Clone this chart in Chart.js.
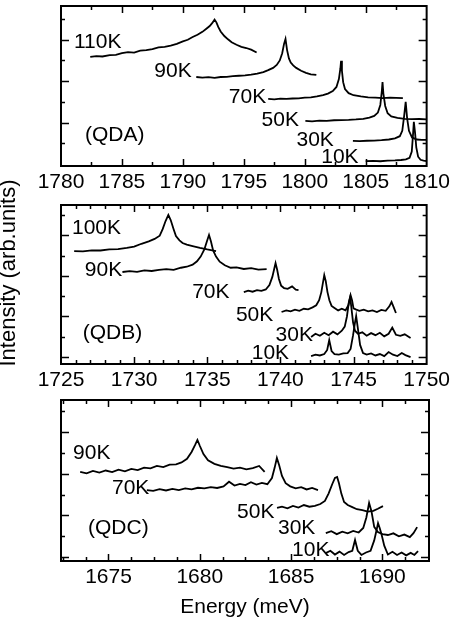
<!DOCTYPE html>
<html>
<head>
<meta charset="utf-8">
<script src="https://cdn.jsdelivr.net/npm/chart.js@4.4.0/dist/chart.umd.min.js"></script>
<style>
  body { margin: 0; background: #fff; width: 454px; height: 622px; position: relative; overflow: hidden; font-family: "Liberation Sans", Arial, sans-serif; }
  canvas { position: absolute; left: 0; }
  #ylab { position: absolute; width: 260px; height: 26px; line-height: 26px; left: -122px; top: 260px; text-align: center; font-size: 22px; color: #000; transform: rotate(-90deg); }
</style>
</head>
<body>
<canvas id="qda" width="454" height="200" style="top:0px"></canvas>
<canvas id="qdb" width="454" height="200" style="top:200px"></canvas>
<canvas id="qdc" width="454" height="227" style="top:395px"></canvas>
<div id="ylab">Intensity (arb.units)</div>
<script>
// tick labels
var qdaTicks = [1780, 1785, 1790, 1795, 1800, 1805, 1810];
var qdbTicks = [1725, 1730, 1735, 1740, 1745, 1750];
var qdcTicks = [1675, 1680, 1685, 1690];

// QDA spectra (energy meV / intensity, offset per temperature)
var qda110E = [1782.4, 1782.9, 1783.4, 1784.0, 1784.5, 1785.0, 1785.5, 1786.0, 1786.5, 1787.0, 1787.5, 1788.0, 1788.5, 1789.0, 1789.5, 1790.0, 1790.4, 1790.8, 1791.2, 1791.6, 1791.9, 1792.2, 1792.4, 1792.6, 1792.75, 1792.9, 1793.1, 1793.4, 1793.7, 1794.0, 1794.4, 1794.8, 1795.2, 1795.6, 1796.05];
var qda110I = [5.17, 5.21, 5.19, 5.26, 5.27, 5.35, 5.40, 5.38, 5.47, 5.50, 5.55, 5.63, 5.66, 5.72, 5.80, 5.92, 6.00, 6.13, 6.24, 6.38, 6.52, 6.66, 6.80, 6.97, 6.84, 6.62, 6.40, 6.18, 6.02, 5.88, 5.76, 5.66, 5.60, 5.52, 5.38];
var qda90E = [1791.1, 1791.6, 1792.1, 1792.6, 1793.1, 1793.6, 1794.1, 1794.6, 1795.1, 1795.6, 1796.1, 1796.6, 1797.0, 1797.4, 1797.7, 1797.95, 1798.15, 1798.3, 1798.42, 1798.55, 1798.7, 1798.85, 1799.05, 1799.3, 1799.7, 1800.1, 1800.5, 1800.95];
var qda90I = [4.20, 4.17, 4.19, 4.16, 4.20, 4.21, 4.24, 4.26, 4.28, 4.31, 4.36, 4.44, 4.53, 4.64, 4.78, 5.00, 5.35, 5.80, 6.04, 5.50, 5.10, 4.90, 4.76, 4.64, 4.50, 4.40, 4.33, 4.30];
var qda70E = [1797.0, 1797.5, 1798.0, 1798.5, 1799.0, 1799.5, 1800.0, 1800.5, 1801.0, 1801.5, 1801.9, 1802.3, 1802.6, 1802.8, 1802.92, 1802.98, 1803.05, 1803.15, 1803.3, 1803.6, 1804.0, 1804.6, 1805.2, 1805.8, 1806.4, 1807.0, 1807.5, 1808.05];
var qda70I = [3.14, 3.12, 3.15, 3.14, 3.16, 3.17, 3.20, 3.22, 3.26, 3.32, 3.40, 3.52, 3.72, 4.10, 4.60, 4.98, 4.50, 3.95, 3.62, 3.42, 3.32, 3.26, 3.22, 3.20, 3.18, 3.20, 3.19, 3.18];
var qda50E = [1800.05, 1800.6, 1801.2, 1801.8, 1802.4, 1803.0, 1803.6, 1804.2, 1804.8, 1805.3, 1805.7, 1806.0, 1806.2, 1806.32, 1806.38, 1806.45, 1806.6, 1806.8, 1807.1, 1807.6, 1808.2, 1808.8, 1809.4, 1810.0];
var qda50I = [2.08, 2.06, 2.09, 2.08, 2.11, 2.12, 2.13, 2.15, 2.18, 2.24, 2.32, 2.48, 2.85, 3.50, 3.96, 3.40, 2.80, 2.45, 2.30, 2.22, 2.18, 2.16, 2.17, 2.15];
var qda30E = [1803.95, 1804.5, 1805.1, 1805.7, 1806.3, 1806.9, 1807.4, 1807.8, 1808.0, 1808.15, 1808.28, 1808.4, 1808.55, 1808.8, 1809.2, 1809.6, 1810.0];
var qda30I = [1.11, 1.10, 1.12, 1.13, 1.15, 1.18, 1.24, 1.34, 1.60, 2.30, 3.00, 2.20, 1.60, 1.28, 1.18, 1.16, 1.16];
var qda10E = [1805.0, 1805.6, 1806.2, 1806.8, 1807.4, 1807.9, 1808.3, 1808.6, 1808.78, 1808.88, 1808.95, 1809.05, 1809.15, 1809.3, 1809.5, 1809.75, 1810.0];
var qda10I = [0.14, 0.15, 0.13, 0.16, 0.17, 0.19, 0.22, 0.30, 0.60, 1.40, 2.03, 1.50, 0.80, 0.35, 0.20, 0.16, 0.14];

// QDB spectra
var qdb100E = [1725.9, 1726.5, 1727.1, 1727.7, 1728.3, 1728.9, 1729.5, 1730.0, 1730.5, 1731.0, 1731.4, 1731.75, 1731.95, 1732.15, 1732.34, 1732.5, 1732.7, 1732.86, 1733.1, 1733.31, 1733.6, 1734.0, 1734.5, 1735.0, 1735.6];
var qdb100I = [5.22, 5.21, 5.26, 5.25, 5.30, 5.32, 5.38, 5.44, 5.58, 5.70, 5.82, 5.98, 6.30, 6.70, 7.00, 6.75, 6.30, 5.96, 5.75, 5.62, 5.54, 5.47, 5.38, 5.30, 5.22];
var qdb90E = [1729.2, 1729.7, 1730.2, 1730.7, 1731.2, 1731.7, 1732.2, 1732.7, 1733.2, 1733.6, 1734.0, 1734.3, 1734.55, 1734.8, 1735.0, 1735.12, 1735.25, 1735.4, 1735.6, 1735.85, 1736.2, 1736.6, 1737.0, 1737.5, 1738.0, 1738.5, 1739.06];
var qdb90I = [4.19, 4.23, 4.20, 4.27, 4.24, 4.30, 4.33, 4.30, 4.40, 4.45, 4.55, 4.72, 4.95, 5.30, 5.75, 6.01, 5.70, 5.25, 4.95, 4.70, 4.52, 4.40, 4.42, 4.34, 4.38, 4.31, 4.33];
var qdb70E = [1737.5, 1737.8, 1738.1, 1738.4, 1738.7, 1739.0, 1739.25, 1739.45, 1739.58, 1739.67, 1739.78, 1739.9, 1740.05, 1740.25, 1740.5, 1740.8, 1741.05, 1741.24];
var qdb70I = [3.20, 3.27, 3.22, 3.30, 3.26, 3.33, 3.55, 3.95, 4.35, 4.63, 4.30, 3.85, 3.52, 3.40, 3.36, 3.48, 3.32, 3.30];
var qdb50E = [1740.08, 1740.4, 1740.7, 1741.0, 1741.3, 1741.6, 1741.9, 1742.2, 1742.45, 1742.65, 1742.8, 1742.92, 1743.0, 1743.1, 1743.22, 1743.35, 1743.5, 1743.7, 1743.95, 1744.2, 1744.45, 1744.65, 1744.8, 1744.9, 1745.0, 1745.15, 1745.4, 1745.7, 1746.0, 1746.3, 1746.6, 1746.9, 1747.2, 1747.45, 1747.6, 1747.75, 1747.9];
var qdb50I = [2.22, 2.30, 2.25, 2.34, 2.28, 2.38, 2.35, 2.45, 2.55, 2.80, 3.20, 3.70, 4.04, 3.75, 3.20, 2.80, 2.52, 2.42, 2.30, 2.38, 2.30, 2.55, 3.05, 2.80, 2.40, 2.35, 2.28, 2.34, 2.25, 2.30, 2.22, 2.32, 2.28, 2.50, 2.72, 2.45, 2.17];
var qdb30E = [1742.1, 1742.4, 1742.7, 1743.0, 1743.3, 1743.6, 1743.9, 1744.2, 1744.4, 1744.55, 1744.68, 1744.77, 1744.86, 1744.97, 1745.1, 1745.3, 1745.6, 1745.9, 1746.2, 1746.5, 1746.8, 1747.1, 1747.4, 1747.65, 1747.9, 1748.2, 1748.5, 1748.9];
var qdb30I = [0.99, 1.15, 1.05, 1.20, 1.08, 1.25, 1.12, 1.30, 1.50, 2.00, 2.70, 2.96, 2.40, 1.70, 1.30, 1.15, 1.22, 1.05, 1.18, 1.08, 1.20, 1.02, 1.15, 1.45, 1.10, 1.05, 1.12, 0.94];
var qdb10E = [1742.1, 1742.4, 1742.7, 1743.0, 1743.2, 1743.34, 1743.5, 1743.7, 1744.0, 1744.3, 1744.6, 1744.8, 1744.97, 1745.1, 1745.18, 1745.3, 1745.45, 1745.65, 1745.9, 1746.2, 1746.5, 1746.8, 1747.1, 1747.4, 1747.7, 1748.0, 1748.3, 1748.55, 1748.9];
var qdb10I = [0.05, 0.12, 0.08, 0.15, 0.35, 0.84, 0.30, 0.15, 0.12, 0.18, 0.20, 0.40, 1.08, 1.70, 2.02, 1.40, 0.60, 0.20, 0.12, 0.18, 0.08, 0.15, 0.05, 0.25, 0.12, 0.05, 0.20, 0.10, 0.00];

// QDC spectra
var qdc90E = [1673.45, 1673.8, 1674.15, 1674.5, 1674.85, 1675.2, 1675.55, 1675.9, 1676.25, 1676.6, 1676.95, 1677.3, 1677.65, 1678.0, 1678.35, 1678.7, 1679.0, 1679.3, 1679.55, 1679.75, 1679.87, 1680.0, 1680.2, 1680.45, 1680.8, 1681.15, 1681.5, 1681.85, 1682.2, 1682.55, 1682.9, 1683.25, 1683.55];
var qdc90I = [4.09, 4.02, 4.14, 4.06, 4.16, 4.08, 4.20, 4.12, 4.24, 4.18, 4.30, 4.26, 4.38, 4.32, 4.44, 4.46, 4.55, 4.72, 5.05, 5.40, 5.63, 5.35, 4.95, 4.65, 4.48, 4.38, 4.32, 4.25, 4.30, 4.22, 4.28, 4.38, 4.09];
var qdc70E = [1677.1, 1677.45, 1677.8, 1678.15, 1678.5, 1678.85, 1679.2, 1679.55, 1679.9, 1680.25, 1680.6, 1680.95, 1681.3, 1681.6, 1681.9, 1682.2, 1682.5, 1682.8, 1683.1, 1683.4, 1683.7, 1683.95, 1684.1, 1684.22, 1684.35, 1684.5, 1684.7, 1684.95, 1685.25, 1685.55, 1685.85, 1686.15, 1686.47];
var qdc70I = [3.22, 3.18, 3.26, 3.20, 3.28, 3.22, 3.30, 3.25, 3.33, 3.30, 3.36, 3.32, 3.40, 3.62, 3.44, 3.52, 3.46, 3.60, 3.48, 3.56, 3.50, 3.80, 4.30, 4.76, 4.40, 3.90, 3.55, 3.40, 3.30, 3.36, 3.25, 3.32, 3.22];
var qdc50E = [1684.23, 1684.5, 1684.8, 1685.1, 1685.4, 1685.7, 1686.0, 1686.3, 1686.6, 1686.85, 1687.05, 1687.25, 1687.4, 1687.52, 1687.62, 1687.75, 1687.9, 1688.1, 1688.35, 1688.6, 1688.9, 1689.2, 1689.5, 1689.75, 1690.03];
var qdc50I = [2.36, 2.42, 2.34, 2.46, 2.38, 2.50, 2.42, 2.46, 2.55, 2.70, 3.05, 3.50, 3.80, 3.85, 3.55, 3.05, 2.65, 2.50, 2.40, 2.30, 2.26, 2.18, 2.22, 2.32, 2.45];
var qdc30E = [1686.9, 1687.2, 1687.5, 1687.8, 1688.1, 1688.4, 1688.7, 1688.95, 1689.12, 1689.27, 1689.4, 1689.55, 1689.75, 1690.0, 1690.3, 1690.6, 1690.9, 1691.2, 1691.5, 1691.7, 1691.9];
var qdc30I = [1.15, 1.24, 1.10, 1.22, 1.14, 1.26, 1.18, 1.40, 1.90, 2.60, 2.20, 1.45, 1.20, 1.10, 1.06, 1.14, 1.00, 1.08, 0.96, 1.15, 1.44];
var qdc10E = [1686.9, 1687.15, 1687.4, 1687.65, 1687.9, 1688.15, 1688.35, 1688.5, 1688.65, 1688.85, 1689.1, 1689.35, 1689.55, 1689.68, 1689.76, 1689.85, 1689.95, 1690.1, 1690.3, 1690.55, 1690.8, 1691.05, 1691.3, 1691.55, 1691.75, 1691.95];
var qdc10I = [0.19, 0.30, 0.12, 0.26, 0.10, 0.24, 0.30, 0.82, 0.30, 0.10, 0.22, 0.30, 0.80, 1.30, 1.63, 1.40, 1.10, 0.55, 0.12, 0.25, 0.10, 0.22, 0.08, 0.20, 0.10, 0.28];

Chart.defaults.font.family = '"Liberation Sans", Arial, sans-serif';
Chart.defaults.font.size = 21;
Chart.defaults.color = '#000';

function series(es, is) {
  return es.map(function (e, i) { return { x: e, y: is[i] }; });
}

function makePanel(id, cfg) {
  // box with inward ticks, plus the temperature labels
  var frame = {
    id: 'frame',
    afterDatasetsDraw: function (chart) {
      var ctx = chart.ctx, a = chart.chartArea, x = chart.scales.x, y = chart.scales.y;
      ctx.save();
      ctx.strokeStyle = '#000';
      ctx.lineWidth = 1.5;
      ctx.beginPath();
      for (var v = cfg.minorStart; v <= cfg.xMax + 1e-6; v += cfg.minor) {
        var px = Math.round(x.getPixelForValue(v)) + 0.5;
        if (px < a.left + 2 || px > a.right - 2) continue;
        var len = Math.abs(v / 5 - Math.round(v / 5)) < 1e-6 ? 7 : 4;
        ctx.moveTo(px, a.bottom); ctx.lineTo(px, a.bottom - len);
        ctx.moveTo(px, a.top); ctx.lineTo(px, a.top + len);
      }
      for (var k = 0; k <= 7; k++) {
        var py = Math.round(y.getPixelForValue(k)) + 0.5;
        if (py < a.top + 2 || py > a.bottom - 2) continue;
        var l = k % 2 === 0 ? 8 : 4;
        ctx.moveTo(a.left, py); ctx.lineTo(a.left + l, py);
        ctx.moveTo(a.right, py); ctx.lineTo(a.right - l, py);
      }
      ctx.stroke();
      ctx.lineWidth = 2;
      ctx.strokeRect(a.left, a.top, a.right - a.left, a.bottom - a.top);
      ctx.fillStyle = '#000';
      ctx.font = '21px "Liberation Sans", Arial, sans-serif';
      ctx.textBaseline = 'middle';
      ctx.textAlign = 'left';
      cfg.marks.forEach(function (m) {
        ctx.fillText(m[0], x.getPixelForValue(m[1]), y.getPixelForValue(m[2]));
      });
      ctx.restore();
    }
  };

  new Chart(document.getElementById(id), {
    type: 'scatter',
    data: {
      datasets: cfg.curves.map(function (c) {
        return { data: series(c[0], c[1]), showLine: true, borderColor: '#000', borderWidth: 1.8, pointRadius: 0, fill: false };
      })
    },
    options: {
      responsive: false,
      animation: false,
      events: [],
      layout: { padding: { left: 61, right: 25, top: cfg.top, bottom: 0 } },
      plugins: { legend: { display: false }, tooltip: { enabled: false } },
      scales: {
        x: {
          type: 'linear',
          min: cfg.xMin,
          max: cfg.xMax,
          grid: { display: false, drawTicks: false },
          border: { display: false },
          ticks: { padding: 4, maxRotation: 0, autoSkip: false, callback: function (v) { return String(v); } },
          afterBuildTicks: function (s) { s.ticks = cfg.ticks.map(function (v) { return { value: v }; }); },
          afterFit: function (s) { s.height = cfg.axisH; },
          title: cfg.title ? { display: true, text: cfg.title, font: { size: 21 }, padding: { top: 0, bottom: 2 } } : { display: false }
        },
        y: { display: false, min: cfg.yMin, max: cfg.yMax }
      }
    },
    plugins: [frame]
  });
}

makePanel('qda', {
  xMin: 1780, xMax: 1810, yMin: -0.1, yMax: 7.63, top: 6, axisH: 34,
  ticks: qdaTicks, minorStart: 1780, minor: 2.5,
  curves: [[qda110E, qda110I], [qda90E, qda90I], [qda70E, qda70I], [qda50E, qda50I], [qda30E, qda30I], [qda10E, qda10I]],
  marks: [['110K', 1781.06, 5.89], ['90K', 1787.66, 4.49], ['70K', 1793.77, 3.24], ['50K', 1796.46, 2.13],
          ['30K', 1799.32, 1.16], ['10K', 1801.35, 0.34], ['(QDA)', 1781.96, 1.40]]
});

makePanel('qdb', {
  xMin: 1725, xMax: 1750, yMin: -0.34, yMax: 7.49, top: 5, axisH: 36,
  ticks: qdbTicks, minorStart: 1725, minor: 1,
  curves: [[qdb100E, qdb100I], [qdb90E, qdb90I], [qdb70E, qdb70I], [qdb50E, qdb50I], [qdb30E, qdb30I], [qdb10E, qdb10I]],
  marks: [['100K', 1725.75, 6.35], ['90K', 1726.63, 4.29], ['70K', 1733.97, 3.20], ['50K', 1736.96, 2.07],
          ['30K', 1739.67, 1.08], ['10K', 1738.04, 0.20], ['(QDB)', 1726.49, 1.18]]
});

makePanel('qdc', {
  xMin: 1672.4, xMax: 1692.55, yMin: -0.19, yMax: 7.55, top: 5, axisH: 61,
  ticks: qdcTicks, minorStart: 1672.5, minor: 1.25, title: 'Energy (meV)',
  curves: [[qdc90E, qdc90I], [qdc70E, qdc70I], [qdc50E, qdc50I], [qdc30E, qdc30I], [qdc10E, qdc10I]],
  marks: [['90K', 1673.06, 5.0], ['70K', 1675.19, 3.32], ['50K', 1682.04, 2.16],
          ['30K', 1684.28, 1.39], ['10K', 1685.05, 0.34], ['(QDC)', 1673.88, 1.39]]
});
</script>
</body>
</html>
